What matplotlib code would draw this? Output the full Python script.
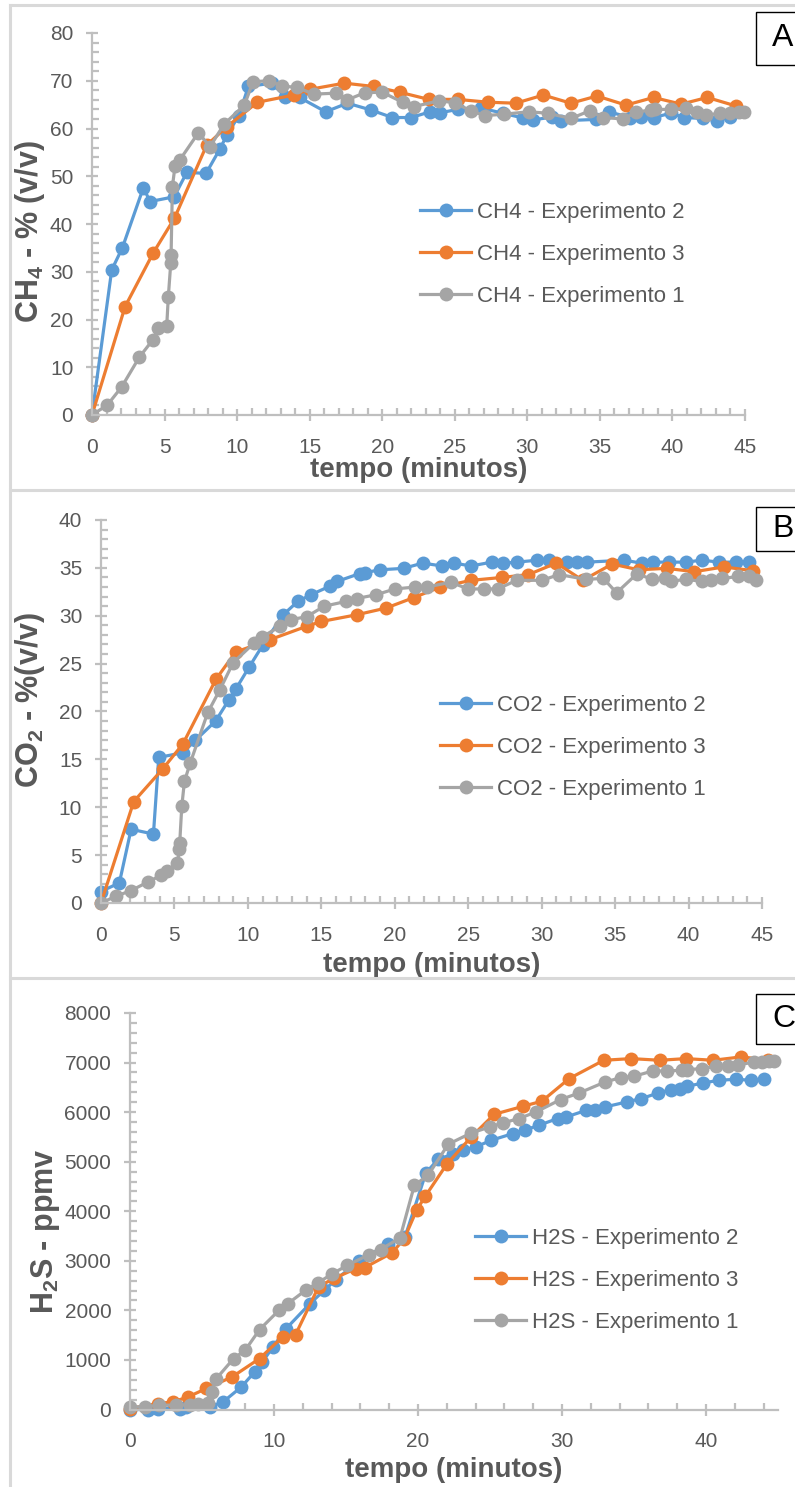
import matplotlib
matplotlib.use("Agg")
import matplotlib.pyplot as plt
from matplotlib.lines import Line2D
from matplotlib.patches import Rectangle
from matplotlib.ticker import MultipleLocator

plt.rcParams['font.family'] = ['Liberation Sans', 'DejaVu Sans']
plt.rcParams['mathtext.default'] = 'regular'

# ---- CH4 (%) ----
ch4_t2 = [0, 1.36, 2.09, 3.54, 4.0, 5.66, 6.53, 7.86, 8.83, 9.29, 10.1, 10.78, 12.4, 13.3, 14.3,
          16.1, 17.6, 19.2, 20.7, 22.0, 23.3, 24.0, 25.2, 26.8, 28.3, 29.7, 30.4, 31.7, 32.3,
          34.7, 35.6, 37.1, 37.8, 38.7, 39.9, 40.8, 42.1, 43.1, 44.0]
ch4_e2 = [0, 30.4, 35.0, 47.6, 44.7, 45.7, 50.8, 50.6, 55.8, 58.6, 62.6, 68.8, 69.5, 66.7, 66.5,
          63.5, 65.3, 63.9, 62.3, 62.3, 63.5, 63.3, 64.0, 64.3, 63.2, 62.2, 61.8, 62.4, 61.6,
          61.9, 63.5, 62.3, 62.5, 62.3, 63.2, 62.3, 62.1, 61.6, 62.5]
ch4_t3 = [0, 2.28, 4.23, 5.68, 7.9, 9.3, 11.4, 13.9, 15.0, 17.4, 19.4, 21.2, 23.2, 25.2, 27.3,
          29.2, 31.1, 33.0, 34.8, 36.8, 38.7, 40.6, 42.4, 44.4]
ch4_e3 = [0, 22.7, 34.0, 41.2, 56.5, 60.4, 65.5, 67.0, 68.2, 69.5, 68.8, 67.6, 66.1, 66.1, 65.5,
          65.3, 67.0, 65.3, 66.8, 64.9, 66.5, 65.1, 66.5, 64.7]
ch4_t1 = [0, 1.06, 2.05, 3.26, 4.18, 4.57, 5.15, 5.26, 5.43, 5.45, 5.54, 5.72, 6.07, 7.33, 8.14,
          9.1, 10.5, 11.1, 12.2, 13.1, 14.1, 15.3, 16.8, 17.6, 18.8, 20.0, 21.4, 22.2, 23.9,
          25.0, 26.1, 27.1, 28.4, 30.1, 31.4, 33.0, 34.3, 35.2, 36.6, 37.5, 38.5, 38.8, 39.9,
          40.9, 41.7, 42.3, 43.3, 44.0, 44.6, 44.9]
ch4_e1 = [0, 2.1, 5.9, 12.1, 15.7, 18.2, 18.7, 24.8, 31.9, 33.5, 47.8, 52.1, 53.5, 59.1, 56.2,
          60.9, 64.9, 69.8, 70.0, 68.9, 68.6, 67.2, 67.4, 66.0, 67.5, 67.6, 65.5, 64.6, 65.8,
          65.4, 63.7, 62.7, 63.0, 63.5, 63.2, 62.1, 63.7, 62.3, 62.0, 63.4, 63.9, 64.0, 64.0,
          64.2, 63.4, 62.8, 63.2, 63.3, 63.4, 63.4]

# ---- CO2 (%) ----
co2_t2 = [0, 1.25, 2.05, 3.57, 3.93, 5.57, 6.43, 7.8, 8.7, 9.2, 10.07, 11.0, 12.4, 13.4, 14.3,
          15.6, 16.1, 17.6, 17.95, 19.0, 20.6, 21.9, 23.2, 24.0, 25.2, 26.6, 27.4, 28.3, 29.7,
          30.5, 31.7, 32.4, 33.1, 35.6, 36.8, 37.6, 38.7, 39.8, 40.9, 42.1, 43.2, 44.1]
co2_e2 = [1.2, 2.1, 7.7, 7.2, 15.2, 15.7, 17.0, 19.0, 21.2, 22.4, 24.6, 26.9, 30.1, 31.5, 32.2,
          33.1, 33.6, 34.4, 34.5, 34.8, 34.95, 35.5, 35.2, 35.5, 35.2, 35.6, 35.5, 35.6, 35.8,
          35.8, 35.6, 35.6, 35.6, 35.8, 35.5, 35.6, 35.6, 35.6, 35.8, 35.6, 35.6, 35.6]
co2_t3 = [0, 2.23, 4.2, 5.57, 7.84, 9.16, 11.5, 14.0, 15.0, 17.4, 19.4, 21.3, 23.1, 25.2, 27.3,
          29.1, 31.0, 32.8, 34.8, 36.6, 38.5, 40.4, 42.4, 44.4]
co2_e3 = [0, 10.6, 14.0, 16.6, 23.4, 26.2, 27.5, 28.9, 29.4, 30.1, 30.8, 31.9, 33.0, 33.7, 34.0,
          34.3, 35.5, 33.7, 35.4, 34.8, 34.95, 34.6, 35.1, 34.7]
co2_t1 = [0, 1.0, 2.05, 3.2, 4.1, 4.5, 5.2, 5.34, 5.36, 5.5, 5.68, 6.07, 7.27, 8.07, 9.0, 10.45,
          10.98, 12.2, 12.95, 14.0, 15.2, 16.7, 17.4, 18.75, 20.0, 21.4, 22.2, 23.8, 25.0, 26.1,
          27.0, 28.3, 30.0, 31.2, 33.0, 34.2, 35.1, 36.5, 37.5, 38.4, 38.8, 39.8, 40.9, 41.5,
          42.3, 43.4, 44.1, 44.6]
co2_e1 = [0, 0.7, 1.3, 2.2, 2.9, 3.3, 4.2, 5.6, 6.3, 10.1, 12.7, 14.6, 19.9, 22.2, 25.1, 27.2,
          27.8, 28.9, 29.6, 29.9, 31.0, 31.5, 31.8, 32.2, 32.8, 33.0, 33.0, 33.5, 32.8, 32.8,
          32.8, 33.7, 33.7, 34.3, 33.8, 33.9, 32.4, 34.4, 33.8, 33.9, 33.6, 33.8, 33.6, 33.7,
          33.9, 34.1, 34.1, 33.7]

# ---- H2S (ppmv) ----
h2s_t2 = [0, 1.27, 1.96, 3.46, 3.9, 5.54, 6.47, 7.74, 8.66, 9.2, 9.93, 10.85, 12.5, 13.5, 14.3,
          15.9, 17.9, 19.1, 20.55, 21.4, 22.4, 23.1, 24.0, 25.1, 26.6, 27.4, 28.4, 29.7, 30.3,
          31.7, 32.3, 33.0, 34.5, 35.5, 36.7, 37.6, 38.2, 38.7, 39.8, 40.9, 42.1, 43.1, 44.0]
h2s_e2 = [0, 0, 20, 20, 54, 54, 155, 457, 760, 961, 1264, 1634, 2138, 2407, 2622,
          2998, 3335, 3483, 4773, 5050, 5150, 5230, 5298, 5433, 5568, 5635, 5736, 5870, 5903,
          6038, 6052, 6105, 6206, 6273, 6387, 6455, 6475, 6522, 6588, 6643, 6663, 6643, 6663]
h2s_t3 = [0, 1.96, 3.0, 4.04, 5.3, 7.1, 9.0, 10.6, 11.5, 13.1, 14.2, 15.7, 16.3, 18.2, 19.05,
          19.9, 20.5, 22.0, 23.7, 25.3, 27.3, 28.6, 30.5, 32.9, 34.8, 36.8, 38.6, 40.5, 42.4, 44.3]
h2s_e3 = [20, 121, 155, 255, 424, 659, 1029, 1466, 1513, 2480, 2650, 2844, 2864, 3160, 3449,
          4020, 4300, 4950, 5500, 5957, 6118, 6220, 6677, 7046, 7080, 7046, 7080, 7046, 7113, 7060]
h2s_t1 = [0, 1.04, 2.0, 3.2, 4.2, 4.7, 5.4, 5.66, 6.0, 7.2, 8.0, 9.0, 10.35, 10.97, 12.2, 13.05,
          14.0, 15.1, 16.6, 17.4, 18.75, 19.75, 20.7, 22.1, 23.7, 25.0, 25.9, 27.0, 28.2, 29.9,
          31.2, 33.0, 34.1, 35.0, 36.3, 37.3, 38.3, 38.7, 39.7, 40.7, 41.5, 42.2, 43.3, 43.9,
          44.4, 44.7]
h2s_e1 = [54, 54, 87, 87, 100, 121, 134, 356, 625, 1029, 1197, 1613, 2003, 2138, 2407, 2555,
          2730, 2911, 3126, 3227, 3462, 4525, 4726, 5352, 5580, 5701, 5782, 5870, 6003, 6254,
          6387, 6609, 6697, 6723, 6831, 6831, 6844, 6858, 6878, 6925, 6931, 6945, 7012, 7012,
          7026, 7026]

blue, orange, gray = '#5B9BD5', '#ED7D31', '#A5A5A5'
axis_col = '#BFBFBF'
text_col = '#595959'

W, H = 795, 1487
fig = plt.figure(figsize=(W / 100, H / 100), dpi=100)


def box(l, t, r, b):
    return [l / W, 1 - b / H, (r - l) / W, (b - t) / H]


def panel(rect, series, gas, ymax, ymaj, ymin, xmaj, xmin, ylabel, ylab_xy, xlab_y, leg_xy):
    ax = fig.add_axes(rect)
    for t, v, c, lab in series:
        ax.plot(t, v, '-o', color=c, lw=2.3, ms=10, mew=0, label=f'{gas} - Experimento {lab}',
                clip_on=False)
    ax.set_xlim(0, 45)
    ax.set_ylim(0, ymax)
    ax.xaxis.set_major_locator(MultipleLocator(xmaj))
    ax.xaxis.set_minor_locator(MultipleLocator(xmin))
    ax.yaxis.set_major_locator(MultipleLocator(ymaj))
    ax.yaxis.set_minor_locator(MultipleLocator(ymin))
    for s in ('top', 'right'):
        ax.spines[s].set_visible(False)
    for s in ('left', 'bottom'):
        ax.spines[s].set_color(axis_col)
        ax.spines[s].set_linewidth(1.6)
    ax.tick_params(which='major', direction='inout', length=9, width=1.6, color=axis_col,
                   labelsize=15, labelcolor=text_col)
    ax.tick_params(axis='x', which='major', pad=12)
    ax.tick_params(axis='y', which='major', pad=9)
    ax.tick_params(which='minor', direction='in', length=5, width=1.6, color=axis_col)
    ax.set_xlabel('tempo (minutos)', fontsize=20, fontweight='bold', color=text_col,
                  va='center')
    ax.xaxis.set_label_coords(0.5, xlab_y)
    ax.set_ylabel(ylabel, fontsize=22, fontweight='bold', color=text_col, va='center')
    ax.yaxis.set_label_coords(*ylab_xy)
    ax.legend(loc='upper left', bbox_to_anchor=(leg_xy[0] / W, 1 - leg_xy[1] / H),
              bbox_transform=fig.transFigure, frameon=False, fontsize=16, labelcolor=text_col,
              handlelength=2.3, labelspacing=0.95, handletextpad=0.25, borderpad=0,
              borderaxespad=0)
    return ax


panel(box(92, 33, 745, 415),
      [(ch4_t2, ch4_e2, blue, 2), (ch4_t3, ch4_e3, orange, 3), (ch4_t1, ch4_e1, gray, 1)],
      'CH4', 80, 10, 2, 5, 1, 'CH$_4$ - % (v/v)', (-0.095, 0.48), -0.144, (420, 202))
panel(box(101, 520, 762, 903),
      [(co2_t2, co2_e2, blue, 2), (co2_t3, co2_e3, orange, 3), (co2_t1, co2_e1, gray, 1)],
      'CO2', 40, 5, 1, 5, 1, 'CO$_2$ - %(v/v)', (-0.107, 0.53), -0.162, (440, 695))
panel(box(130, 1013, 778, 1409.5),
      [(h2s_t2, h2s_e2, blue, 2), (h2s_t3, h2s_e3, orange, 3), (h2s_t1, h2s_e1, gray, 1)],
      'H2S', 8000, 1000, 200, 10, 2, 'H$_2$S - ppmv', (-0.131, 0.45), -0.153, (475, 1228))

# frame lines between the charts
for y in (5, 490, 978):
    fig.add_artist(Line2D([10 / W, 1], [1 - y / H] * 2, transform=fig.transFigure,
                          color='#D9D9D9', lw=2.2))
fig.add_artist(Line2D([10 / W] * 2, [0, 1 - 5 / H], transform=fig.transFigure,
                      color='#D9D9D9', lw=2.2))

# panel letters
for letter, top, bot in (('A', 12, 65), ('B', 507, 551), ('C', 994, 1044)):
    fig.add_artist(Rectangle((756 / W, 1 - bot / H), 60 / W, (bot - top) / H,
                             transform=fig.transFigure, fill=False, ec='black', lw=1))
    fig.text(772 / W, 1 - (top + bot) / 2 / H, letter, fontsize=23, color='black',
             ha='left', va='center')

fig.savefig('out.png', dpi=100)
